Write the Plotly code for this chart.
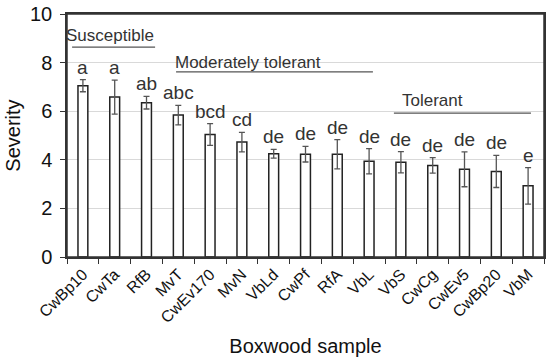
import plotly.graph_objects as go

samples = ["CwBp10", "CwTa", "RfB", "MvT", "CwEv170", "MvN", "VbLd", "CwPf",
           "RfA", "VbL", "VbS", "CwCg", "CwEv5", "CwBp20", "VbM"]
severity = [7.05, 6.58, 6.35, 5.84, 5.04, 4.73, 4.25, 4.23, 4.23, 3.94, 3.90, 3.77, 3.61, 3.52, 2.93]
errors = [0.25, 0.70, 0.26, 0.40, 0.45, 0.40, 0.18, 0.32, 0.60, 0.52, 0.44, 0.32, 0.72, 0.66, 0.75]
letters = ["a", "a", "ab", "abc", "bcd", "cd", "de", "de", "de", "de", "de", "de", "de", "de", "e"]

groups = ["Susceptible", "Moderately tolerant", "Tolerant"]
group_start = [-0.34, 2.93, 9.78]
group_end = [2.27, 9.12, 14.09]
group_line_y = [8.64, 7.62, 5.92]
group_text_y = [9.1, 8.0, 6.45]
group_text_x = [0.84, 5.2, 11.0]

FONT = "Liberation Sans, Arial, sans-serif"

fig = go.Figure()
fig.add_trace(go.Bar(
    x=samples, y=severity,
    marker=dict(color="white", line=dict(color="#222222", width=1.5)),
    width=0.31,
    error_y=dict(type="data", array=errors, visible=True, color="#555555",
                 thickness=1.3, width=3),
    showlegend=False,
))

for i, (s, v, e, l) in enumerate(zip(samples, severity, errors, letters)):
    fig.add_annotation(x=s, y=v + e, text=l, showarrow=False, yanchor="bottom",
                       yshift=0, font=dict(family=FONT, size=19, color="#333333"))

for g, x0, x1, ly, ty, tx in zip(groups, group_start, group_end, group_line_y, group_text_y, group_text_x):
    fig.add_shape(type="line", xref="x", yref="y", x0=x0, x1=x1, y0=ly, y1=ly,
                  line=dict(color="#555555", width=1.3))
    fig.add_annotation(x=tx, y=ty, text=g, showarrow=False, xref="x", yref="y",
                       font=dict(family=FONT, size=17, color="#333333"))

# frame around the plotting area
fig.add_shape(type="rect", xref="paper", yref="paper", x0=0, x1=1, y0=0, y1=1,
              line=dict(color="#333333", width=1.5), layer="above")

fig.update_layout(
    width=550, height=362,
    margin=dict(l=67, r=6, t=14, b=105),
    plot_bgcolor="white", paper_bgcolor="white",
    font=dict(family=FONT, color="#111111"),
    bargap=0.69,
)
fig.update_xaxes(
    type="category", tickson="boundaries", ticks="outside", ticklen=5,
    tickcolor="#333333", tickangle=-45, tickfont=dict(size=16),
    showline=True, linecolor="#333333", linewidth=1.5, mirror=True,
    showgrid=False, automargin=False,
    title=dict(text="Boxwood sample", font=dict(size=20), standoff=14),
    range=[-0.5, 14.5],
)
fig.update_yaxes(
    range=[0, 10], dtick=2, ticks="outside", ticklen=5, tickcolor="#333333",
    tickfont=dict(size=20), showline=True, linecolor="#333333", linewidth=1.5,
    mirror=True, showgrid=True, gridcolor="#d9d9d9", gridwidth=1,
    zeroline=False, automargin=False, ticklabelstandoff=4,
    title=dict(text="Severity", font=dict(size=20), standoff=4),
)

fig.write_html("out.html", config={"displayModeBar": False},
               post_script="document.body.style.margin='0';")
